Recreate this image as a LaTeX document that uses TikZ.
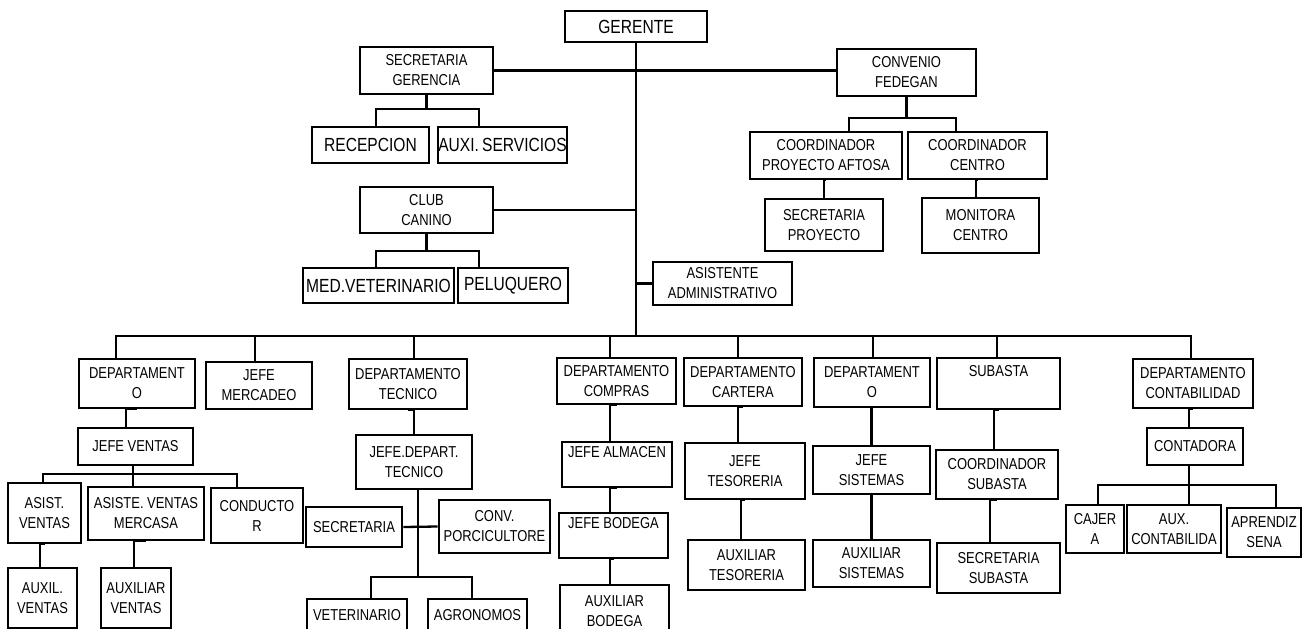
\documentclass[tikz,border=0pt]{standalone}
\usepackage{fontspec}
\setmainfont{Liberation Sans}[FakeStretch=0.82]
\begin{document}
\begin{tikzpicture}[x=1pt, y=-1pt,
		box/.style = {shape=rectangle, draw, line width=2.6pt, inner sep=0pt, align=center, font=\fontsize{15.8}{20}\selectfont},
		big/.style = {box, font=\fontsize{19}{22}\selectfont},
		link/.style = {line width=2.3pt}]
	\useasboundingbox (0,0) rectangle (1307,629);
	% top level
	\node[big, minimum width=142, minimum height=31] (gerente) at (636,26.5) {GERENTE};
	\node[box, minimum width=133, minimum height=47] (secger) at (426.5,70.5) {SECRETARIA\\GERENCIA};
	\node[big, minimum width=117, minimum height=36] (recep) at (370.5,145) {RECEPCION};
	\node[big, minimum width=129, minimum height=36] (auxser) at (502.5,145) {AUXI.\,SERVICIOS};
	\node[box, minimum width=139, minimum height=47] (convenio) at (906.5,72.5) {CONVENIO\\FEDEGAN};
	\node[box, minimum width=152, minimum height=47] (coordaft) at (826,155.5) {COORDINADOR\\PROYECTO AFTOSA};
	\node[box, minimum width=139, minimum height=47] (coordcen) at (977.5,155.5) {COORDINADOR\\CENTRO};
	\node[box, minimum width=118, minimum height=52] (secproy) at (824,225) {SECRETARIA\\PROYECTO};
	\node[box, minimum width=117, minimum height=55] (monitora) at (980.5,225.5) {MONITORA\\CENTRO};
	\node[box, minimum width=133, minimum height=46] (club) at (426.5,210) {CLUB\\CANINO};
	\node[big, minimum width=151, minimum height=35] (medvet) at (378.5,285.5) {MED.VETERINARIO};
	\node[big, minimum width=110, minimum height=35] (peluq) at (513,285.5) {PELUQUERO};
	\node[box, minimum width=139, minimum height=43] (asistadm) at (722.5,283.5) {ASISTENTE\\ADMINISTRATIVO};
	% departamentos
	\node[box, minimum width=116, minimum height=49] (depven) at (137,383.5) {DEPARTAMENT\\O};
	\node[box, minimum width=106, minimum height=47] (mercadeo) at (259,385.5) {JEFE\\MERCADEO};
	\node[box, minimum width=115, minimum height=37] (jefeven) at (135.5,446.5) {JEFE VENTAS};
	\node[box, minimum width=73, minimum height=60] (asistven) at (44.5,513) {ASIST.\\VENTAS};
	\node[box, minimum width=116, minimum height=53] (mercasa) at (146,513.5) {ASISTE. VENTAS\\MERCASA};
	\node[box, minimum width=92, minimum height=55] (conductor) at (257,515.5) {CONDUCTO\\R};
	\node[box, minimum width=69, minimum height=60] (auxilven) at (42.5,598) {AUXIL.\\VENTAS};
	\node[box, minimum width=70, minimum height=60] (auxiliarven) at (136,598) {AUXILIAR\\VENTAS};
	\node[box, minimum width=118, minimum height=50] (deptec) at (408,384) {DEPARTAMENTO\\TECNICO};
	\node[box, minimum width=116, minimum height=54] (jefedep) at (414,462) {JEFE.DEPART.\\TECNICO};
	\node[box, minimum width=96, minimum height=40] (secret) at (354,527) {SECRETARIA};
	\node[box, minimum width=111, minimum height=53] (porcic) at (494.5,526.5) {CONV.\\PORCICULTORE};
	\node[box, minimum width=100, minimum height=32] (veter) at (357,615) {VETERINARIO};
	\node[box, minimum width=99, minimum height=32] (agron) at (477.5,615) {AGRONOMOS};
	\node[box, minimum width=119, minimum height=46] (compras) at (616.5,381) {DEPARTAMENTO\\COMPRAS};
	\node[box, minimum width=110, minimum height=45] (almacen) at (617,464.5) {JEFE ALMACEN\\\strut};
	\node[box, minimum width=109, minimum height=45] (bodega) at (613.5,535.5) {JEFE BODEGA\\\strut};
	\node[box, minimum width=109, minimum height=52] (auxbod) at (614.5,611) {AUXILIAR\\BODEGA};
	\node[box, minimum width=118, minimum height=48] (cartera) at (743,382) {DEPARTAMENTO\\CARTERA};
	\node[box, minimum width=120, minimum height=56] (jefetes) at (745,471) {JEFE\\TESORERIA};
	\node[box, minimum width=117, minimum height=50] (auxtes) at (746.5,565) {AUXILIAR\\TESORERIA};
	\node[box, minimum width=116, minimum height=49] (depsis) at (872,382.5) {DEPARTAMENT\\O};
	\node[box, minimum width=117, minimum height=48] (jefesis) at (871.5,470) {JEFE\\SISTEMAS};
	\node[box, minimum width=117, minimum height=47] (auxsis) at (871.5,563.5) {AUXILIAR\\SISTEMAS};
	\node[box, minimum width=123, minimum height=51] (subasta) at (998.5,383.5) {SUBASTA\\\strut};
	\node[box, minimum width=122, minimum height=49] (coordsub) at (997,474.5) {COORDINADOR\\SUBASTA};
	\node[box, minimum width=123, minimum height=50] (secsub) at (998.5,568) {SECRETARIA\\SUBASTA};
	\node[box, minimum width=120, minimum height=49] (contab) at (1193,383.5) {DEPARTAMENTO\\CONTABILIDAD};
	\node[box, minimum width=96, minimum height=37] (contadora) at (1195,446.5) {CONTADORA};
	\node[box, minimum width=58, minimum height=48] (cajera) at (1095,529) {CAJER\\A};
	\node[box, minimum width=94, minimum height=48] (auxcont) at (1174,529) {AUX.\\CONTABILIDA};
	\node[box, minimum width=74, minimum height=49] (aprendiz) at (1264,532.5) {APRENDIZ\\SENA};

	% connectors
	\coordinate (bus) at (636,336);
	\path (secger.south) ++(0,14) coordinate (f1);
	\path (convenio.south) ++(0,21) coordinate (f2);
	\path (club.south) ++(0,17) coordinate (f3);
	\path (jefeven.south) ++(-2.5,8) coordinate (f4);
	\path (jefedep.south) ++(4,87) coordinate (f5);
	\path (contadora.south) ++(-6,19) coordinate (f6);
	\draw[link] (gerente.south) -- (bus);
	\draw[link] (secger.east) -- (secger.east -| convenio.west);
	\draw[link] (club.east) -- (club.east -| bus);
	\draw[link] (asistadm.west) -- (asistadm.west -| bus);
	\draw[link] (secger.south) -- (f1);
	\draw[link] ([xshift=5.5]recep.north) |- (f1);
	\draw[link] ([xshift=-23.5]auxser.north) |- (f1);
	\draw[link] (convenio.south) -- (f2);
	\draw[link] ([xshift=23]coordaft.north) |- (f2);
	\draw[link] ([xshift=-21.5]coordcen.north) |- (f2);
	\draw[link] (secproy.north) |- (coordaft.south);
	\draw[link] ([xshift=-4.5]monitora.north) |- (coordcen.south);
	\draw[link] (club.south) -- (f3);
	\draw[link] ([xshift=-2.5]medvet.north) |- (f3);
	\draw[link] ([xshift=-34]peluq.north) |- (f3);
	\foreach \n/\dx in {depven/-21, mercadeo/-4, deptec/6, compras/-6.5, cartera/-5, depsis/1, subasta/-1.5, contab/-2}
		\draw[link] ([xshift=\dx]\n.north) |- (bus);
	\draw[link] ([xshift=-9.5]jefeven.north) |- (depven.south);
	\draw[link] ([xshift=-2.5]jefeven.south) -- (f4);
	\foreach \n/\dx in {asistven/-1.5, mercasa/-13, conductor/-20}
		\draw[link] ([xshift=\dx]\n.north) |- (f4);
	\draw[link] ([xshift=-2.5]auxilven.north) |- (asistven.south);
	\draw[link] ([xshift=-2]auxiliarven.north) |- (mercasa.south);
	\draw[link] (jefedep.north) |- (deptec.south);
	\draw[link] ([xshift=4]jefedep.south) -- (f5);
	\draw[link] (secret.east) -- (porcic.west);
	\draw[link] ([xshift=14]veter.north) |- (f5);
	\draw[link] ([xshift=-5.5]agron.north) |- (f5);
	\draw[link] ([xshift=-7]almacen.north) |- (compras.south);
	\draw[link] ([xshift=-3.5]bodega.north) |- (almacen.south);
	\draw[link] ([xshift=-4.5]auxbod.north) |- (bodega.south);
	\draw[link] ([xshift=-7]jefetes.north) |- (cartera.south);
	\draw[link] ([xshift=-5.5]auxtes.north) |- (jefetes.south);
	\draw[link] (jefesis.north) |- (depsis.south);
	\draw[link] (auxsis.north) |- (jefesis.south);
	\draw[link] ([xshift=-3]coordsub.north) |- (subasta.south);
	\draw[link] ([xshift=-8.5]secsub.north) |- (coordsub.south);
	\draw[link] ([xshift=-6]contadora.north) |- (contab.south);
	\draw[link] ([xshift=-6]contadora.south) -- (f6);
	\foreach \n/\dx in {cajera/3, auxcont/15, aprendiz/12}
		\draw[link] ([xshift=\dx]\n.north) |- (f6);
\end{tikzpicture}
\end{document}
